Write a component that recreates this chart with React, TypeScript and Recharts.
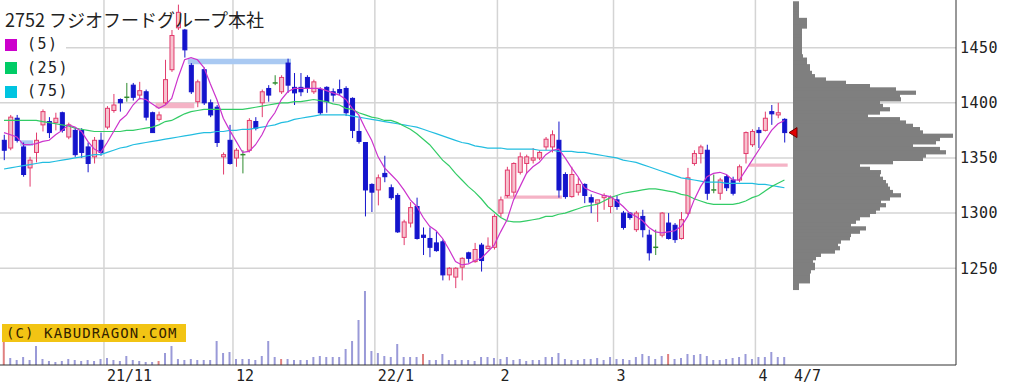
import React from 'react';
import {
  ComposedChart,
  BarChart,
  Bar,
  Line,
  Cell,
  XAxis,
  YAxis,
  CartesianGrid,
  ReferenceArea,
  ReferenceDot,
} from 'recharts';

// trading days shown (Oct 2021 - Apr 2022)
const dates = [
  '10/8', '10/11', '10/12', '10/13', '10/14', '10/15', '10/18', '10/19', '10/20', '10/21', '10/22', '10/25', '10/26', '10/27', '10/28', '10/29',
  '11/1', '11/2', '11/4', '11/5', '11/8', '11/9', '11/10', '11/11', '11/12', '11/15', '11/16', '11/17', '11/18', '11/19', '11/22', '11/24', '11/25', '11/26', '11/29', '11/30',
  '12/1', '12/2', '12/3', '12/6', '12/7', '12/8', '12/9', '12/10', '12/13', '12/14', '12/15', '12/16', '12/17', '12/20', '12/21', '12/22', '12/23', '12/24', '12/27', '12/28', '12/29', '12/30',
  '1/4', '1/5', '1/6', '1/7', '1/11', '1/12', '1/13', '1/14', '1/17', '1/18', '1/19', '1/20', '1/21', '1/24', '1/25', '1/26', '1/27', '1/28', '1/31',
  '2/1', '2/2', '2/3', '2/4', '2/7', '2/8', '2/9', '2/10', '2/14', '2/15', '2/16', '2/17', '2/18', '2/21', '2/22', '2/24', '2/25', '2/28',
  '3/1', '3/2', '3/3', '3/4', '3/7', '3/8', '3/9', '3/10', '3/11', '3/14', '3/15', '3/16', '3/17', '3/18', '3/22', '3/23', '3/24', '3/25', '3/28', '3/29', '3/30', '3/31',
  '4/1', '4/4', '4/5', '4/6', '4/7',
];

const opens = [
  1366, 1359, 1386, 1360, 1341, 1355, 1380, 1383, 1382, 1391,
  1369, 1375, 1375, 1360, 1351, 1366, 1378, 1393, 1403, 1405,
  1416, 1407, 1410, 1391, 1385, 1400, 1430, 1468, 1466, 1434,
  1401, 1430, 1400, 1396, 1351, 1366, 1350, 1353, 1357, 1383,
  1400, 1413, 1418, 1410, 1436, 1414, 1414, 1423, 1410, 1412,
  1414, 1410, 1412, 1413, 1404, 1374, 1364, 1326, 1321, 1336,
  1323, 1316, 1278, 1291, 1306, 1280, 1277, 1273, 1274, 1244,
  1242, 1251, 1264, 1256, 1271, 1268, 1269, 1300, 1316, 1319,
  1337, 1345, 1348, 1350, 1360, 1360, 1366, 1335, 1315, 1319,
  1326, 1314, 1309, 1314, 1306, 1312, 1300, 1300, 1285, 1297,
  1280, 1269, 1280, 1291, 1289, 1277, 1300, 1345, 1354, 1357,
  1321, 1318, 1333, 1330, 1330, 1354, 1362, 1375, 1375, 1392,
  1389, 1385,
];
const highs = [
  1371, 1389, 1389, 1364, 1351, 1373, 1394, 1387, 1391, 1392,
  1382, 1378, 1377, 1364, 1369, 1373, 1397, 1408, 1404, 1418,
  1418, 1419, 1412, 1392, 1392, 1439, 1466, 1489, 1467, 1436,
  1421, 1432, 1403, 1398, 1355, 1380, 1359, 1357, 1386, 1387,
  1412, 1416, 1425, 1425, 1440, 1427, 1427, 1425, 1421, 1414,
  1415, 1413, 1421, 1415, 1405, 1386, 1364, 1327, 1335, 1352,
  1326, 1318, 1294, 1310, 1314, 1287, 1287, 1283, 1276, 1251,
  1251, 1260, 1265, 1273, 1273, 1278, 1299, 1315, 1342, 1346,
  1355, 1353, 1359, 1357, 1369, 1375, 1383, 1337, 1342, 1332,
  1327, 1317, 1312, 1318, 1316, 1316, 1302, 1301, 1302, 1303,
  1285, 1285, 1301, 1300, 1291, 1301, 1341, 1357, 1362, 1362,
  1335, 1332, 1335, 1333, 1344, 1374, 1376, 1378, 1392, 1398,
  1400, 1386,
];
const lows = [
  1348, 1357, 1364, 1333, 1324, 1346, 1374, 1368, 1375, 1373,
  1367, 1351, 1350, 1337, 1345, 1352, 1376, 1391, 1392, 1401,
  1402, 1403, 1384, 1373, 1383, 1398, 1428, 1466, 1441, 1408,
  1396, 1398, 1387, 1360, 1335, 1344, 1342, 1336, 1355, 1375,
  1387, 1401, 1416, 1408, 1409, 1398, 1406, 1409, 1408, 1389,
  1391, 1401, 1407, 1388, 1368, 1363, 1297, 1301, 1307, 1328,
  1312, 1282, 1271, 1287, 1276, 1262, 1260, 1265, 1239, 1239,
  1232, 1239, 1255, 1255, 1247, 1267, 1267, 1296, 1314, 1315,
  1335, 1336, 1345, 1348, 1357, 1355, 1314, 1313, 1314, 1316,
  1309, 1300, 1292, 1303, 1300, 1303, 1285, 1294, 1283, 1278,
  1257, 1262, 1278, 1276, 1273, 1276, 1298, 1343, 1345, 1312,
  1318, 1312, 1320, 1316, 1328, 1345, 1360, 1359, 1374, 1380,
  1386, 1364,
];
const closes = [
  1357, 1387, 1366, 1335, 1348, 1366, 1392, 1373, 1386, 1375,
  1380, 1353, 1355, 1345, 1366, 1355, 1395, 1398, 1400, 1405,
  1405, 1411, 1387, 1373, 1389, 1421, 1461, 1482, 1448, 1410,
  1419, 1400, 1389, 1364, 1353, 1345, 1357, 1353, 1384, 1377,
  1410, 1407, 1418, 1423, 1416, 1409, 1410, 1413, 1419, 1391,
  1401, 1407, 1409, 1391, 1375, 1365, 1321, 1319, 1332, 1333,
  1314, 1283, 1292, 1305, 1277, 1278, 1269, 1266, 1244, 1250,
  1250, 1259, 1259, 1267, 1257, 1270, 1297, 1312, 1339, 1345,
  1351, 1351, 1350, 1355, 1367, 1371, 1321, 1315, 1335, 1326,
  1316, 1310, 1312, 1316, 1314, 1306, 1287, 1296, 1300, 1285,
  1264, 1269, 1300, 1277, 1276, 1294, 1332, 1354, 1360, 1318,
  1321, 1330, 1323, 1318, 1342, 1373, 1374, 1373, 1386, 1390,
  1391, 1373,
];

// volume, thousand shares
const volumes = [
  230, 70, 50, 80, 50, 190, 60, 40, 30, 40,
  60, 50, 40, 50, 40, 60, 70, 50, 40, 90,
  50, 40, 30, 30, 40, 120, 190, 60, 50, 60,
  50, 50, 50, 240, 120, 130, 60, 60, 60, 50,
  90, 240, 80, 60, 60, 50, 50, 50, 80, 90,
  80, 80, 80, 160, 240, 450, 740, 140, 120, 90,
  80, 210, 80, 80, 80, 110, 50, 50, 110, 50,
  50, 50, 50, 40, 80, 80, 70, 60, 80, 50,
  60, 40, 50, 50, 80, 80, 120, 60, 50, 50,
  60, 60, 70, 50, 80, 60, 60, 50, 80, 110,
  90, 60, 90, 110, 60, 70, 110, 100, 110, 90,
  50, 50, 60, 70, 80, 110, 60, 80, 80, 130,
  80, 80,
];
const redVolumeDays = [0, 24, 43, 65, 103];

const ma5 = [
  1373, 1371, 1369, 1362, 1362, 1363, 1365, 1366, 1371, 1375,
  1380, 1378, 1374, 1365, 1358, 1355, 1364, 1374, 1384, 1389,
  1398, 1404, 1403, 1399, 1395, 1398, 1404, 1423, 1439, 1441,
  1439, 1432, 1417, 1403, 1386, 1375, 1365, 1355, 1356, 1362,
  1371, 1383, 1391, 1403, 1410, 1413, 1413, 1413, 1413, 1413,
  1411, 1409, 1407, 1403, 1395, 1389, 1377, 1366, 1351, 1341,
  1335, 1329, 1321, 1312, 1306, 1296, 1288, 1284, 1277, 1267,
  1256, 1253, 1254, 1257, 1259, 1265, 1271, 1283, 1294, 1312,
  1324, 1336, 1342, 1346, 1353, 1357, 1358, 1350, 1341, 1333,
  1323, 1320, 1318, 1316, 1315, 1311, 1306, 1300, 1297, 1293,
  1287, 1283, 1282, 1283, 1284, 1288, 1297, 1312, 1324, 1333,
  1336, 1337, 1335, 1330, 1330, 1339, 1348, 1357, 1366, 1375,
  1381, 1384,
];
const ma25 = [
  1384, 1384, 1384, 1384, 1384, 1384, 1383, 1382, 1381, 1380,
  1379, 1377, 1376, 1375, 1374, 1374, 1374, 1374, 1374, 1375,
  1375, 1376, 1377, 1378, 1380, 1383, 1384, 1387, 1390, 1392,
  1393, 1394, 1394, 1394, 1394, 1394, 1394, 1394, 1395, 1396,
  1397, 1398, 1399, 1400, 1400, 1401, 1401, 1402, 1403, 1402,
  1401, 1399, 1398, 1395, 1394, 1391, 1389, 1387, 1386, 1384,
  1384, 1382, 1379, 1376, 1372, 1367, 1362, 1355, 1348, 1343,
  1336, 1330, 1324, 1319, 1313, 1306, 1301, 1296, 1293, 1292,
  1292, 1293, 1294, 1295, 1297, 1297, 1299, 1300, 1302, 1304,
  1306, 1307, 1308, 1311, 1314, 1316, 1318, 1319, 1320, 1321,
  1322, 1322, 1321, 1320, 1319, 1317, 1316, 1313, 1311, 1309,
  1308, 1308, 1308, 1308, 1309, 1311, 1314, 1316, 1320, 1324,
  1327, 1330,
];
const ma75 = [
  1340, 1341, 1342, 1343, 1344, 1345, 1346, 1346, 1347, 1348,
  1349, 1350, 1351, 1352, 1353, 1353, 1355, 1357, 1359, 1360,
  1362, 1363, 1364, 1365, 1366, 1367, 1368, 1369, 1370, 1371,
  1372, 1373, 1373, 1374, 1374, 1375, 1375, 1376, 1376, 1377,
  1378, 1379, 1380, 1382, 1383, 1385, 1386, 1387, 1388, 1389,
  1389, 1389, 1389, 1389, 1388, 1387, 1386, 1385, 1384, 1383,
  1382, 1381, 1380, 1379, 1378, 1376, 1374, 1372, 1370, 1368,
  1366, 1364, 1363, 1361, 1360, 1359, 1359, 1359, 1358, 1358,
  1358, 1358, 1358, 1357, 1357, 1357, 1356, 1356, 1356, 1355,
  1355, 1354, 1353, 1352, 1351, 1350, 1348, 1347, 1346, 1344,
  1342, 1340, 1338, 1336, 1334, 1332, 1331, 1330, 1329, 1328,
  1328, 1328, 1327, 1327, 1327, 1327, 1327, 1326, 1326, 1325,
  1324, 1323,
];

// unfilled price gaps ("windows")
const windows = [
  { from: 3, to: 4, lo: 1361, hi: 1366, up: false },
  { from: 24, to: 29, lo: 1395, hi: 1400, up: true },
  { from: 29, to: 44, lo: 1435, hi: 1440, up: false },
  { from: 78, to: 86, lo: 1313, hi: 1316, up: true },
  { from: 116, to: 121, lo: 1342, hi: 1345, up: true },
];

// volume by price (price level, volume)
const profilePrices = [
  1490, 1487, 1484, 1481, 1478, 1475, 1472, 1469, 1466, 1463,
  1460, 1457, 1454, 1451, 1448, 1445, 1442, 1439, 1436, 1433,
  1430, 1427, 1424, 1421, 1418, 1415, 1412, 1409, 1406, 1403,
  1400, 1397, 1394, 1391, 1388, 1385, 1382, 1379, 1376, 1373,
  1370, 1367, 1364, 1361, 1358, 1355, 1352, 1349, 1346, 1343,
  1340, 1337, 1334, 1331, 1328, 1325, 1322, 1319, 1316, 1313,
  1310, 1307, 1304, 1301, 1298, 1295, 1292, 1289, 1286, 1283,
  1280, 1277, 1274, 1271, 1268, 1265, 1262, 1259, 1256, 1253,
  1250, 1247, 1244, 1241, 1238, 1235, 1232,
];
const profileVolumes = [
  60, 60, 60, 60, 60, 140, 140, 140, 90, 90,
  90, 90, 90, 90, 90, 90, 100, 140, 140, 170,
  170, 190, 220, 330, 530, 770, 1030, 1230, 1070, 1080,
  870, 900, 970, 870, 750, 1070, 1130, 1200, 1270, 1300,
  1600, 1470, 1430, 1200, 1470, 1530, 1330, 1300, 1000, 670,
  770, 880, 870, 900, 930, 950, 970, 1000, 1080, 970,
  880, 930, 870, 830, 770, 670, 630, 580, 730, 670,
  580, 570, 480, 450, 470, 420, 280, 230, 200, 220,
  220, 180, 170, 170, 170, 60, 60,
];

const monthLabels = ['21/11', '12', '22/1', '2', '3', '4'];
const lastLabel = '4/7';
const priceTicks = [1250, 1300, 1350, 1400, 1450];

const PRICE_DOMAIN: [number, number] = [1162.3, 1493.2];
const X_DOMAIN: [number, number] = [-0.62, 147.6];

const UP_FILL = '#f7c3cf';
const UP_LINE = '#e23b6c';
const DOWN = '#1414cc';
const DOJI = '#2e8b2e';
const MONO = '"DejaVu Sans Mono", monospace';

const data = dates.map((d, i) => ({
  i,
  date: d,
  open: opens[i],
  high: highs[i],
  low: lows[i],
  close: closes[i],
  range: [lows[i], highs[i]],
  vol: volumes[i],
  ma5: ma5[i],
  ma25: ma25[i],
  ma75: ma75[i],
}));

const monthOf = (d: string) => d.split('/')[0];
const monthStarts = data
  .filter((d, i) => i > 0 && monthOf(d.date) !== monthOf(data[i - 1].date))
  .map((d) => d.i);
const lastIndex = data.length - 1;

const gridXs = monthStarts.map((s) => s - 0.5);
const tickLabels = new Map<number, string>();
gridXs.forEach((x, k) => tickLabels.set(x, monthLabels[k]));
tickLabels.set(lastIndex + 1, lastLabel);
const xTicks = Array.from(tickLabels.keys());

const profile = profilePrices.map((p, k) => ({ price: p, vol: profileVolumes[k] }));

const Candle = (props: any) => {
  const { x, y, width, height, payload } = props;
  if (!payload) return null;
  const { open, close, high, low } = payload;
  const top = Math.min(y, y + height);
  const h = Math.abs(height);
  const py = (v: number) => (high === low ? top : top + ((high - v) / (high - low)) * h);
  const cx = x + width / 2;
  const oy = py(open);
  const cy = py(close);
  if (close === open) {
    return (
      <g>
        <line x1={cx} x2={cx} y1={top} y2={top + h} stroke={DOJI} strokeWidth={1} />
        <line x1={x} x2={x + width} y1={oy} y2={oy} stroke={DOJI} strokeWidth={1.5} />
      </g>
    );
  }
  const up = close > open;
  const bodyTop = Math.min(oy, cy);
  const bodyH = Math.max(Math.abs(oy - cy), 1);
  return (
    <g>
      <line x1={cx} x2={cx} y1={top} y2={top + h} stroke={up ? UP_LINE : DOWN} strokeWidth={1} />
      <rect
        x={x + 0.5}
        y={bodyTop}
        width={width - 1}
        height={bodyH}
        fill={up ? UP_FILL : DOWN}
        stroke={up ? UP_LINE : DOWN}
        strokeWidth={1}
      />
    </g>
  );
};

// profile rows are drawn slightly taller so neighbouring rows join up
const ProfileRow = (props: any) => {
  const { x, y, width, height } = props;
  if (!width || width <= 0) return null;
  return <rect x={x} y={y - 0.6} width={width} height={height + 1.2} fill="#7f7f7f" />;
};

const DateTick = (props: any) => {
  const { x, y, payload } = props;
  const label = tickLabels.get(payload.value) ?? '';
  return (
    <text x={x + 3} y={y + 14} fontFamily={MONO} fontSize={15} fill="#222">
      {label}
    </text>
  );
};

const Marker = (props: any) => {
  const { cx, cy } = props;
  return (
    <path
      d={`M${cx - 4},${cy} L${cx + 4},${cy - 5} L${cx + 4},${cy + 5} Z`}
      fill="#e00000"
      stroke="#700000"
      strokeWidth={1}
    />
  );
};

const legend = [
  { label: '(5)', color: '#cc00cc' },
  { label: '(25)', color: '#00cc66' },
  { label: '(75)', color: '#00c4e0' },
];

export default function App() {
  return (
    <div
      style={{
        position: 'fixed',
        left: 0,
        top: 0,
        width: 1030,
        height: 384,
        background: '#fff',
        overflow: 'hidden',
      }}
    >
      <div style={{ position: 'absolute', left: 0, top: 0 }}>
        <ComposedChart width={1030} height={384} data={data} margin={{ top: 0, right: 0, bottom: 0, left: 0 }}>
          <CartesianGrid
            xAxisId="p"
            yAxisId="p"
            horizontalValues={priceTicks}
            verticalValues={gridXs}
            stroke="#d4d4d4"
            strokeWidth={1.5}
          />
          <XAxis
            xAxisId="p"
            dataKey="i"
            type="number"
            domain={X_DOMAIN}
            allowDataOverflow
            ticks={xTicks}
            interval={0}
            tick={<DateTick />}
            tickLine={false}
            tickSize={0}
            axisLine={{ stroke: '#333' }}
            height={19}
          />
          <XAxis xAxisId="v" dataKey="i" type="number" domain={X_DOMAIN} allowDataOverflow hide />
          <YAxis
            yAxisId="p"
            orientation="right"
            type="number"
            domain={PRICE_DOMAIN}
            allowDataOverflow
            ticks={priceTicks}
            width={74}
            tickLine={false}
            tickSize={0}
            tickMargin={4}
            axisLine={{ stroke: '#333' }}
            tick={{ fontFamily: MONO, fontSize: 15, fill: '#222', letterSpacing: 0.5 }}
          />
          <YAxis yAxisId="vol" type="number" domain={[0, 3650]} allowDataOverflow hide />
          {windows.map((w, k) => (
            <ReferenceArea
              key={`w${k}`}
              xAxisId="p"
              yAxisId="p"
              x1={w.from - 0.5}
              x2={w.to + 0.5}
              y1={w.lo}
              y2={w.hi}
              fill={w.up ? '#f5b3c6' : '#a9c9f2'}
              fillOpacity={1}
              stroke="none"
              ifOverflow="visible"
            />
          ))}
          <Bar xAxisId="v" yAxisId="vol" dataKey="vol" barSize={2} isAnimationActive={false}>
            {data.map((d) => (
              <Cell key={`v${d.i}`} fill={redVolumeDays.includes(d.i) ? '#e08080' : '#9a9ad8'} />
            ))}
          </Bar>
          <Line xAxisId="p" yAxisId="p" type="linear" dataKey="ma75" stroke="#22bde0" strokeWidth={1.2} dot={false} activeDot={false} isAnimationActive={false} />
          <Line xAxisId="p" yAxisId="p" type="linear" dataKey="ma25" stroke="#33cc66" strokeWidth={1.2} dot={false} activeDot={false} isAnimationActive={false} />
          <Bar xAxisId="p" yAxisId="p" dataKey="range" barSize={5} shape={<Candle />} activeBar={false} isAnimationActive={false} />
          <Line xAxisId="p" yAxisId="p" type="linear" dataKey="ma5" stroke="#cc33cc" strokeWidth={1.2} dot={false} activeDot={false} isAnimationActive={false} />
        </ComposedChart>
      </div>

      <div style={{ position: 'absolute', left: 780, top: 0 }}>
        <BarChart
          layout="vertical"
          width={176}
          height={365}
          data={profile}
          margin={{ top: 0, right: 0, bottom: 0, left: 0 }}
          barCategoryGap={0}
        >
          <XAxis type="number" domain={[-130, 1630]} allowDataOverflow hide />
          <YAxis type="number" dataKey="price" domain={PRICE_DOMAIN} allowDataOverflow reversed hide />
          <Bar dataKey="vol" shape={<ProfileRow />} activeBar={false} isAnimationActive={false} />
          <ReferenceDot x={0} y={closes[lastIndex]} r={5} shape={<Marker />} ifOverflow="visible" />
        </BarChart>
      </div>

      <div
        style={{
          position: 'absolute',
          left: 5,
          top: 10,
          fontFamily: '"Noto Sans CJK JP", sans-serif',
          fontSize: 18,
          lineHeight: '18px',
          color: '#222',
          whiteSpace: 'nowrap',
        }}
      >
        2752 フジオフードグループ本社
      </div>

      <div style={{ position: 'absolute', left: 0, top: 32, width: 66, height: 68, background: '#fff' }} />
      {legend.map((l, k) => (
        <div
          key={l.label}
          style={{
            position: 'absolute',
            left: 5,
            top: 37 + k * 23.5,
            height: 15,
            display: 'flex',
            alignItems: 'center',
            whiteSpace: 'nowrap',
          }}
        >
          <div style={{ width: 12, height: 12, background: l.color }} />
          <span
            style={{
              marginLeft: 10,
              fontFamily: MONO,
              fontSize: 15,
              lineHeight: '15px',
              letterSpacing: 1.5,
              color: '#222',
            }}
          >
            {l.label}
          </span>
        </div>
      ))}

      <div
        style={{
          position: 'absolute',
          left: 2,
          top: 324,
          width: 184,
          height: 18,
          background: '#f2c414',
          fontFamily: MONO,
          fontSize: 14,
          lineHeight: '18px',
          letterSpacing: 1.1,
          color: '#332200',
          paddingLeft: 4,
          boxSizing: 'border-box',
          whiteSpace: 'nowrap',
        }}
      >
        (C) KABUDRAGON.COM
      </div>
    </div>
  );
}
